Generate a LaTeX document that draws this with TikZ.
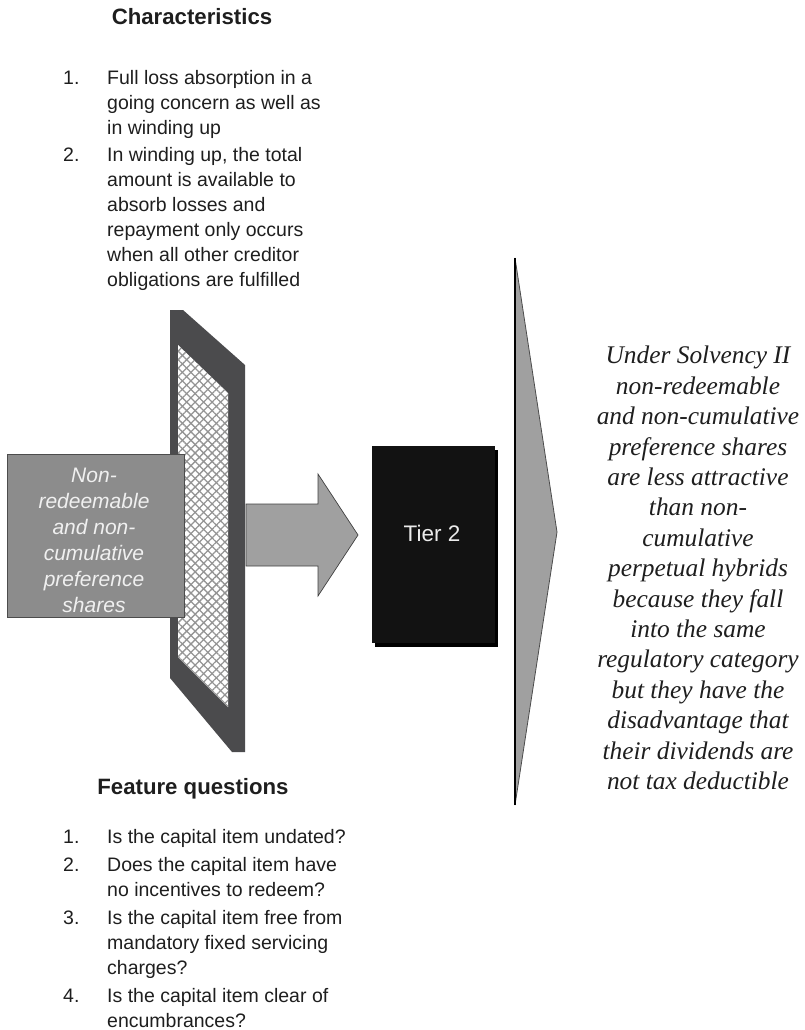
\documentclass[tikz,border=0pt]{standalone}
\usepackage{fontspec}
\setmainfont{Liberation Serif}
\setsansfont{Liberation Sans}
\newfontfamily\notefont{Liberation Serif Italic}
\usetikzlibrary{patterns.meta}

\definecolor{panelgray}{HTML}{4B4B4D}
\definecolor{boxgray}{HTML}{8C8C8C}
\definecolor{arrowgray}{HTML}{A0A0A0}
\definecolor{inkgray}{HTML}{1E1E1E}
\definecolor{tierblack}{HTML}{121212}

\newcommand{\listfont}{\sffamily\fontsize{19.5}{25}\selectfont}
\newcommand{\numcell}[1]{\makebox[44pt][l]{#1}}

\tikzset{
  heading/.style={font=\sffamily\bfseries\fontsize{22.2}{26}\selectfont, text=inkgray, inner sep=0pt},
  itemlist/.style={font=\listfont, text=inkgray, inner sep=0pt, anchor=north west, align=left},
  sourcebox/.style={fill=boxgray, draw=black!70, line width=0.8pt, minimum width=177pt,
    minimum height=163pt, inner sep=0pt},
  sourcetext/.style={align=center, text=white!94!black, inner sep=0pt,
    font=\sffamily\itshape\fontsize{21}{26}\selectfont},
  tierbox/.style={fill=tierblack, minimum width=123pt, minimum height=197pt, inner sep=0pt},
  tiertext/.style={text=white!92!black, inner sep=0pt, font=\sffamily\fontsize{22.5}{26}\selectfont},
  verdict/.style={font=\notefont\fontsize{25.4}{30.4}\selectfont, text=inkgray, align=center, inner sep=0pt}
}

\begin{document}
\begin{tikzpicture}[x=1pt,y=-1pt]
\useasboundingbox (0,0) rectangle (804,1030);

% filter panel seen in perspective
\fill[panelgray] (170,310) -- (183,310) -- (245,365) -- (245,752) -- (232,752) -- (170,678) -- cycle;
% mesh window
\fill[white] (178,345) -- (228,393) -- (228,707) -- (178,657) -- cycle;
\fill[pattern={Lines[angle=45,distance=6pt,line width=1.3pt]}, pattern color=black!42]
  (178,345) -- (228,393) -- (228,707) -- (178,657) -- cycle;
\fill[pattern={Lines[angle=-45,distance=6pt,line width=1.3pt]}, pattern color=black!42]
  (178,345) -- (228,393) -- (228,707) -- (178,657) -- cycle;

% block arrow leaving the filter
\filldraw[fill=arrowgray, draw=black!75, line width=0.7pt, line join=miter]
  (246,504) -- (318,504) -- (318,474) -- (358,535) -- (318,596) -- (318,566) -- (246,566) -- cycle;

% capital instrument entering the filter
\node[sourcebox] (src) at (95.5,535.5) {};
\node[sourcetext] (srctext) at (94,540) {Non-\\redeemable\\and non-\\cumulative\\preference\\shares};

% resulting tier with shadow
\fill[black] (375,450) rectangle (498,647);
\node[tierbox] (tier) at (433.5,544.5) {};
\node[tiertext] (tiertext) at (432,533) {Tier 2};

% conclusion wedge
\filldraw[fill=arrowgray, draw=black!70, line width=0.8pt] (515,258) -- (557,532) -- (515,805) -- cycle;
\draw[black, line width=1.6pt] (515,258) -- (515,805);

% headings and lists
\node[heading] (charhead) at (192,17) {Characteristics};
\node[itemlist] (charlist) at (63,66.5) {%
\begin{tabular}{@{}l@{}l@{}}
\numcell{1.} & Full loss absorption in a\\
 & going concern as well as\\
 & in winding up\\[2pt]
\numcell{2.} & In winding up, the total\\
 & amount is available to\\
 & absorb losses and\\
 & repayment only occurs\\
 & when all other creditor\\
 & obligations are fulfilled
\end{tabular}};

\node[heading] (feathead) at (193,789) {Feature questions};
\node[itemlist] (featlist) at (63,826) {%
\begin{tabular}{@{}l@{}l@{}}
\numcell{1.} & Is the capital item undated?\\[3pt]
\numcell{2.} & Does the capital item have\\
 & no incentives to redeem?\\[3pt]
\numcell{3.} & Is the capital item free from\\
 & mandatory fixed servicing\\
 & charges?\\[3pt]
\numcell{4.} & Is the capital item clear of\\
 & encumbrances?
\end{tabular}};

\node[verdict] (note) at (698,568) {Under Solvency II\\non-redeemable\\and non-cumulative\\preference shares\\are less attractive\\than non-\\cumulative\\perpetual hybrids\\because they fall\\into the same\\regulatory category\\but they have the\\disadvantage that\\their dividends are\\not tax deductible};

\end{tikzpicture}
\end{document}
